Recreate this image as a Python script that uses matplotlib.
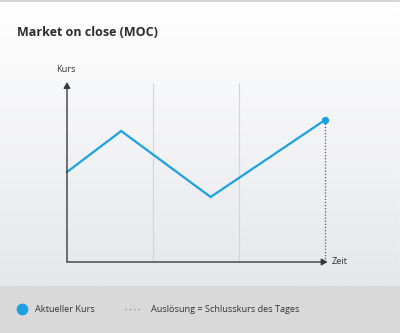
import numpy as np
import matplotlib.pyplot as plt
from matplotlib.colors import LinearSegmentedColormap

# price path over time
time_pts = [0.0, 0.63, 1.67, 3.0]
price_pts = [90, 131, 65, 142]
grid_times = [1, 2]
close_time = 3.0

title = "Market on close (MOC)"
y_label = "Kurs"
x_label = "Zeit"
legend_price = "Aktueller Kurs"
legend_trigger = "Auslösung = Schlusskurs des Tages"

W, H = 400, 333
fig = plt.figure(figsize=(W / 100, H / 100), dpi=100)
plt.rcParams['font.family'] = ['Open Sans', 'DejaVu Sans']

blue = "#1ba1e2"
dark = "#3a3a3a"

# background: soft vertical gradient and a grey legend band
bg = fig.add_axes([0, 0, 1, 1])
bg.set_xlim(0, W)
bg.set_ylim(H, 0)
bg.axis("off")
cmap = LinearSegmentedColormap.from_list("bg", ["#ffffff", "#e6e7eb"])
grad = np.linspace(0, 1, 256).reshape(-1, 1)
bg.imshow(grad, cmap=cmap, extent=[0, W, 286, 0], aspect="auto", zorder=0)
bg.add_patch(plt.Rectangle((0, 286), W, H - 286, color="#d9d9d9", zorder=1))
bg.plot([0, W], [0.5, 0.5], color="#d0d0d0", lw=1.2, zorder=2)
bg.plot([W - 0.5, W - 0.5], [0, 286], color="#f8f8f8", lw=1, zorder=2)

bg.text(17, 32, title, fontsize=9, fontweight="bold", color="#2b2b2b",
        va="center", ha="left")

# legend row
bg.scatter([22], [309], s=55, color=blue, zorder=3)
bg.text(35, 309, legend_price, fontsize=6.6, color="#333333", va="center", ha="left")
bg.plot([125, 142], [309, 309], color="#888888", lw=0.9, ls=(0, (1, 2.5)), zorder=3)
bg.text(151, 309, legend_trigger, fontsize=6.6, color="#333333", va="center", ha="left")

# chart area: x 67..325 px, y 262..83 px
x0, x1 = 67, 325
y0, y1 = 262, 83
ax = fig.add_axes([x0 / W, 1 - y0 / H, (x1 - x0) / W, (y0 - y1) / H])
ax.set_xlim(0, 3.0)
ax.set_ylim(0, y0 - y1)
ax.patch.set_alpha(0)
for s in ax.spines.values():
    s.set_visible(False)
ax.set_xticks([])
ax.set_yticks([])

for gt in grid_times:
    ax.axvline(gt, color="#d4d4d6", lw=0.8, zorder=1)

ax.plot([close_time, close_time], [0, price_pts[-1]], color="#555555", lw=0.9,
        ls=(0, (1, 1.5)), zorder=2, clip_on=False)
ax.plot(time_pts, price_pts, color=blue, lw=1.6, zorder=3, solid_joinstyle="miter",
        clip_on=False)
ax.scatter([time_pts[-1]], [price_pts[-1]], s=18, color=blue, zorder=4, clip_on=False)

# axes with arrowheads
ax.annotate("", xy=(0, y0 - y1 + 1), xytext=(0, 0),
            arrowprops=dict(arrowstyle="-|>,head_length=0.35,head_width=0.2",
                            color=dark, lw=1.0, shrinkA=0, shrinkB=0),
            annotation_clip=False)
ax.annotate("", xy=(3.03, 0), xytext=(0, 0),
            arrowprops=dict(arrowstyle="-|>,head_length=0.35,head_width=0.2",
                            color=dark, lw=1.0, shrinkA=0, shrinkB=0),
            annotation_clip=False)

bg.text(66, 69, y_label, fontsize=6.6, color="#333333", va="center", ha="center")
bg.text(332, 262, x_label, fontsize=6.6, color="#333333", va="center", ha="left")

fig.savefig("out.png", dpi=100)
